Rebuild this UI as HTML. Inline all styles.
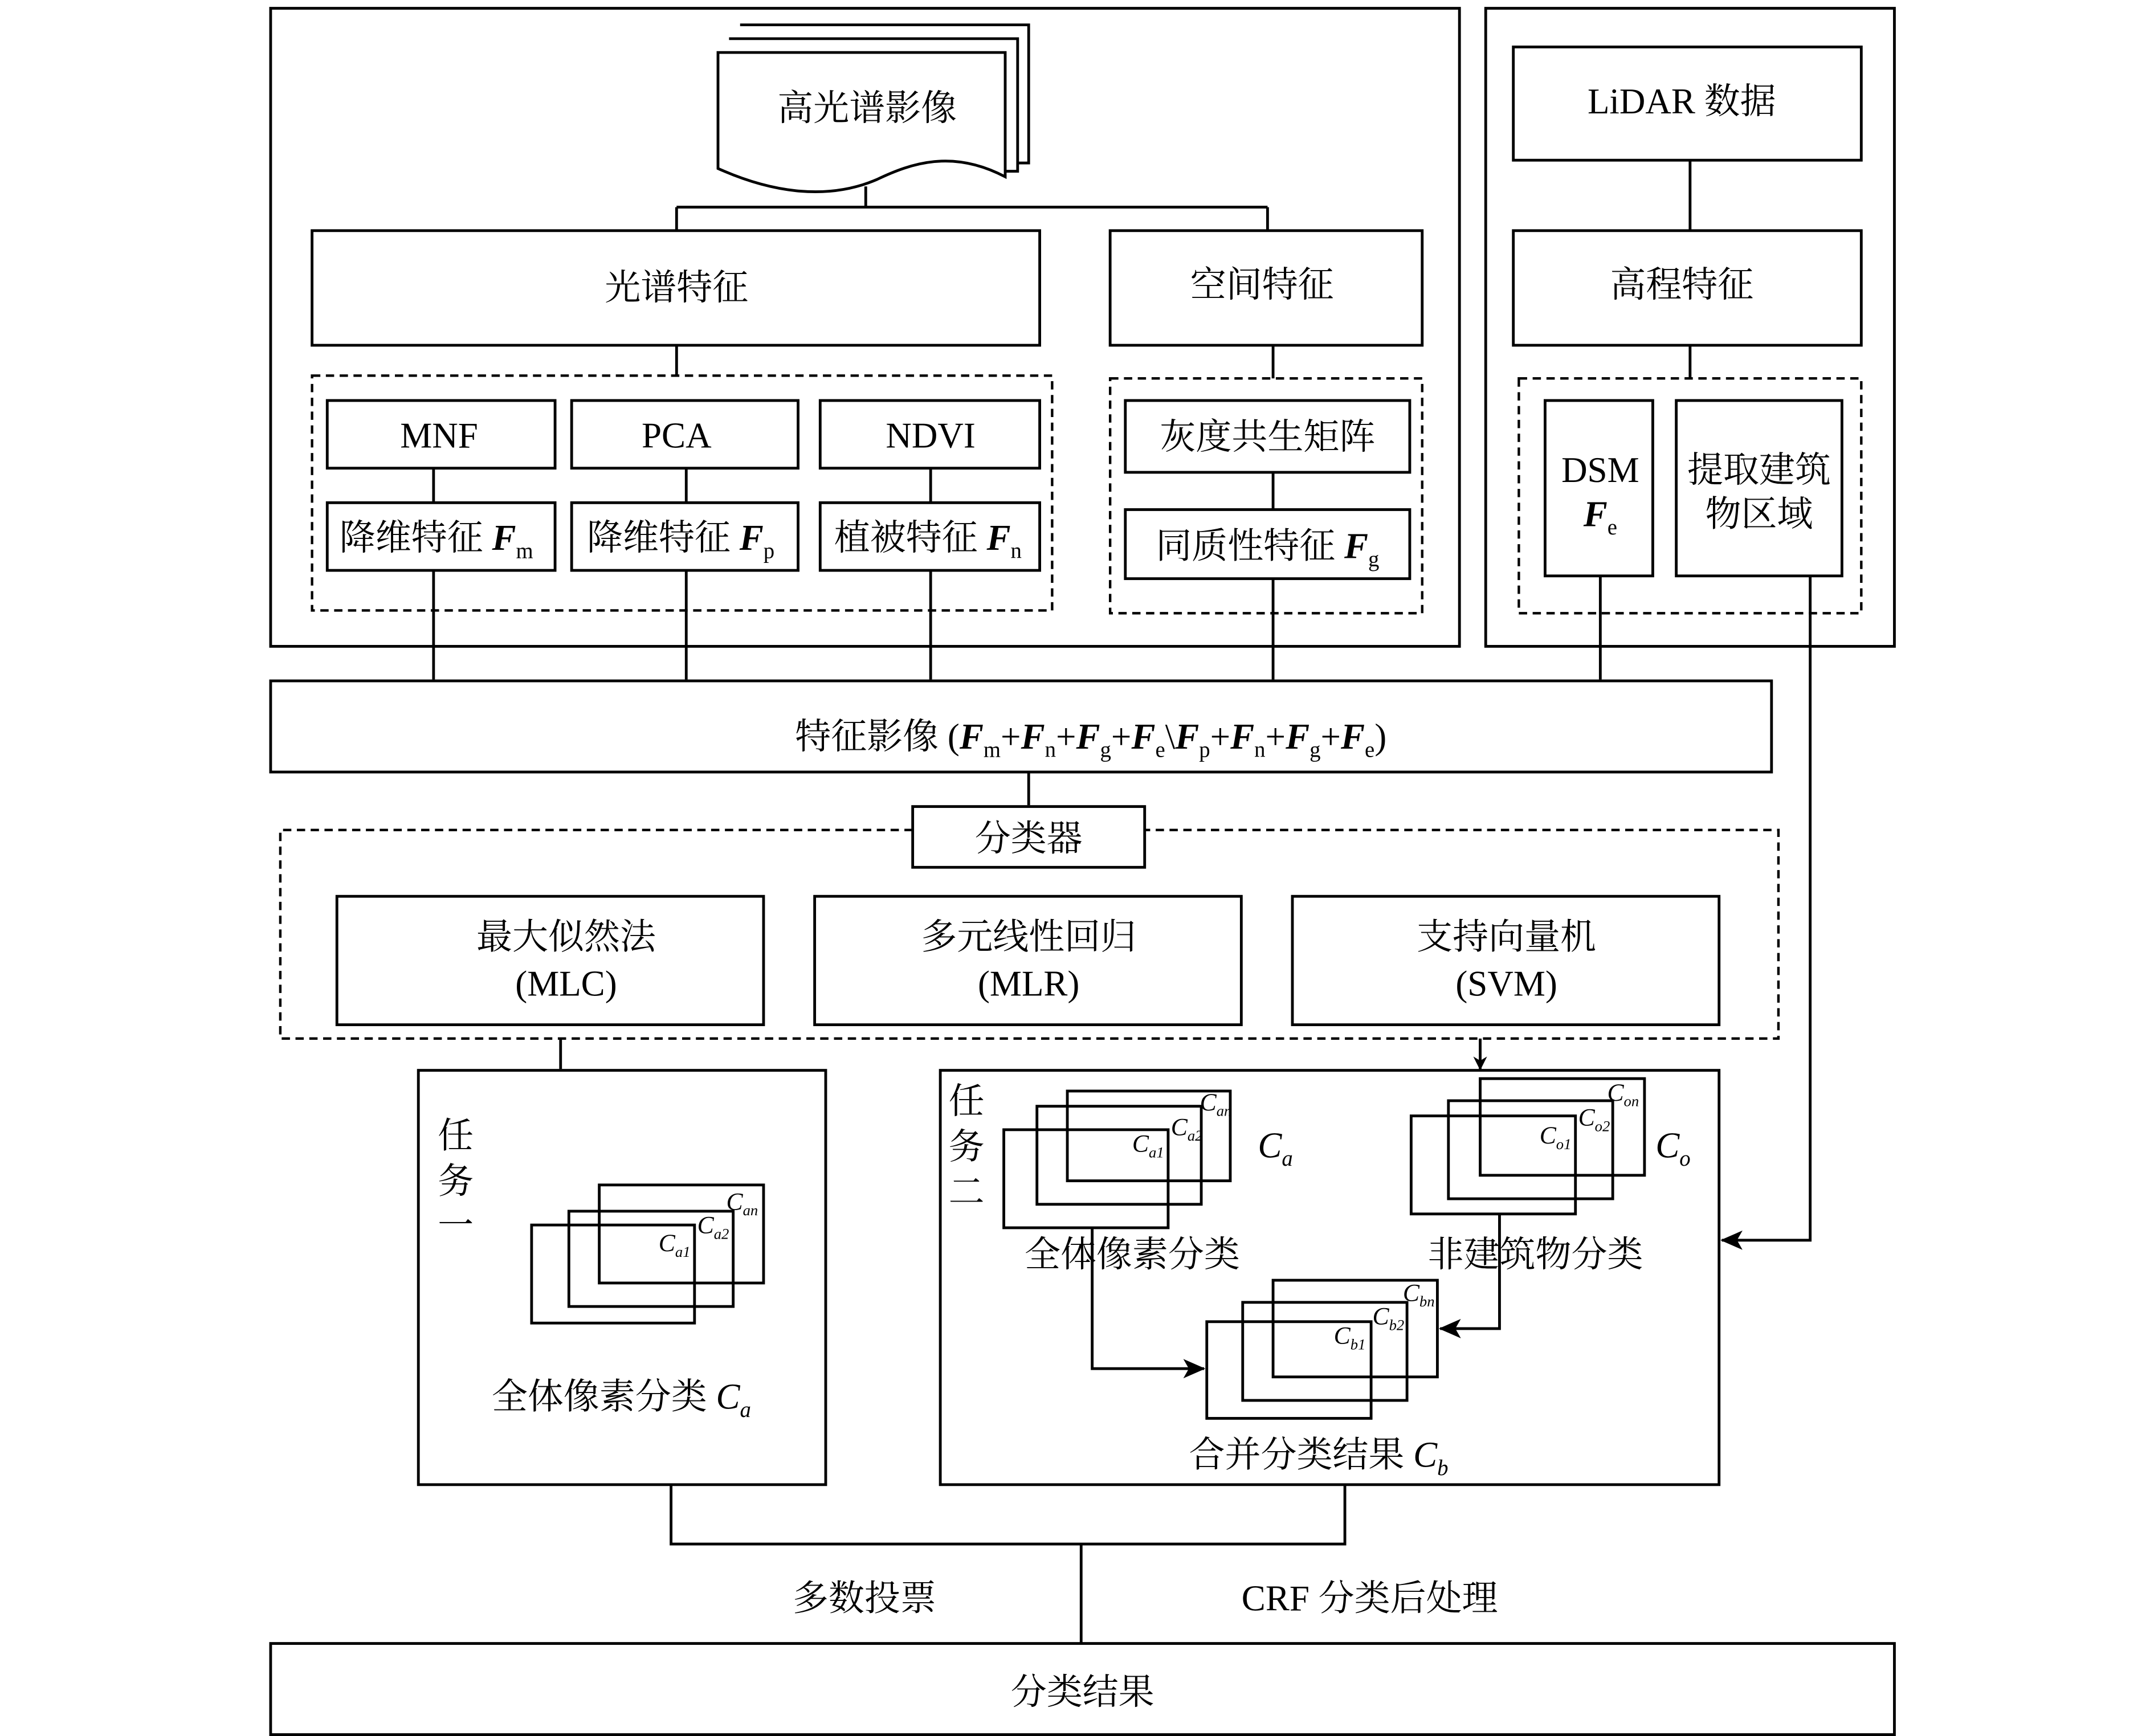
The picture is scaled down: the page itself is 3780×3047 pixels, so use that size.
<!DOCTYPE html>
<html><head><meta charset="utf-8"><style>
html,body{margin:0;padding:0;background:#fff;}
svg{display:block;}
text{font-family:"Liberation Serif","Noto Serif CJK SC",serif;fill:#000;}
</style></head><body>
<svg width="3780" height="3047" viewBox="0 0 1560 1257" preserveAspectRatio="none" xmlns="http://www.w3.org/2000/svg">
<defs><marker id="a" markerWidth="10" markerHeight="10" refX="9" refY="5" orient="auto" markerUnits="userSpaceOnUse"><path d="M0,0 L10,5 L0,10 L3,5 z" fill="#000"/></marker>
<marker id="b" markerWidth="16" markerHeight="14" refX="15" refY="7" orient="auto" markerUnits="userSpaceOnUse"><path d="M0,0 L16,7 L0,14 L4,7 z" fill="#000"/></marker></defs>
<g fill="none" stroke="#000" stroke-width="2">
<rect x="196" y="6" width="861" height="462"/>
<rect x="1076" y="6" width="296" height="462"/>
<!-- document stack -->
<path d="M536,18 H745 V118 H737" fill="#fff"/>
<path d="M528,28 H737 V124 H728" fill="#fff"/>
<path d="M520,38 H728 V128 C690,108 660,118 635,130 C600,145 560,140 520,122 Z" fill="#fff"/>
<path d="M627,135 V150 M490,150 H918 M490,150 V167 M918,150 V167"/>
<rect x="226" y="167" width="527" height="83"/>
<rect x="804" y="167" width="226" height="83"/>
<line x1="490" y1="250" x2="490" y2="272"/>
<line x1="922" y1="250" x2="922" y2="274"/>
<rect x="237" y="290" width="165" height="49"/>
<rect x="414" y="290" width="164" height="49"/>
<rect x="594" y="290" width="159" height="49"/>
<rect x="237" y="364" width="165" height="49"/>
<rect x="414" y="364" width="164" height="49"/>
<rect x="594" y="364" width="159" height="49"/>
<path d="M314,339V364 M497,339V364 M674,339V364 M922,342V369 M1224,116V167 M1224,250V274"/>
<rect x="815" y="290" width="206" height="52"/>
<rect x="815" y="369" width="206" height="50"/>
<rect x="1096" y="34" width="252" height="82"/>
<rect x="1096" y="167" width="252" height="83"/>
<rect x="1119" y="290" width="78" height="127"/>
<rect x="1214" y="290" width="120" height="127"/>
<g stroke-dasharray="6,4" stroke-width="1.8">
<rect x="226" y="272" width="536" height="170"/>
<rect x="804" y="274" width="226" height="170"/>
<rect x="1100" y="274" width="248" height="170"/>
<path d="M661,601 H203 V752 H1288 V601 H829"/>
</g>
<path d="M314,413V492 M497,413V492 M674,413V492 M922,419V492 M1159,417V492 M745,559V583 M406,752V774 M1072,752V774" marker-end="url(#a)"/>
<path d="M1311,417 V898 H1247" marker-end="url(#b)"/>
<rect x="196" y="493" width="1087" height="66"/>
<rect x="661" y="584" width="168" height="44" fill="#fff"/>
<rect x="244" y="649" width="309" height="93"/>
<rect x="590" y="649" width="309" height="93"/>
<rect x="936" y="649" width="309" height="93"/>
<rect x="303" y="775" width="295" height="300"/>
<rect x="681" y="775" width="564" height="300"/>
<rect x="434" y="858" width="119" height="71"/>
<rect x="412" y="877" width="119" height="69"/>
<rect x="385" y="887" width="118" height="71"/>
<rect x="773" y="790" width="118" height="65"/>
<rect x="751" y="801" width="119" height="71"/>
<rect x="727" y="818" width="119" height="71"/>
<rect x="1072" y="781" width="119" height="70"/>
<rect x="1049" y="797" width="119" height="71"/>
<rect x="1022" y="808" width="119" height="71"/>
<rect x="922" y="927" width="119" height="70"/>
<rect x="900" y="943" width="119" height="71"/>
<rect x="874" y="957" width="119" height="70"/>
<path d="M791,889 V991 H872" marker-end="url(#b)"/>
<path d="M1086,879 V962 H1043" marker-end="url(#b)"/>
<path d="M486,1075 V1118 H974 V1075 M783,1118 V1190"/>
<rect x="196" y="1190" width="1176" height="66"/>
</g>
<g font-size="26" text-anchor="middle">
<text x="628" y="87">高光谱影像</text>
<text x="490" y="217">光谱特征</text>
<text x="914" y="215">空间特征</text>
<text x="1218" y="82">LiDAR 数据</text>
<text x="1218" y="215">高程特征</text>
<text x="318" y="324">MNF</text>
<text x="490" y="324">PCA</text>
<text x="674" y="324">NDVI</text>
<text x="918" y="325">灰度共生矩阵</text>
<text x="316" y="398">降维特征 <tspan font-weight="bold" font-style="italic">F</tspan><tspan font-size="16" dy="6">m</tspan></text>
<text x="493" y="398">降维特征 <tspan font-weight="bold" font-style="italic">F</tspan><tspan font-size="16" dy="6">p</tspan></text>
<text x="672" y="398">植被特征 <tspan font-weight="bold" font-style="italic">F</tspan><tspan font-size="16" dy="6">n</tspan></text>
<text x="918" y="404">同质性特征 <tspan font-weight="bold" font-style="italic">F</tspan><tspan font-size="16" dy="6">g</tspan></text>
<text x="1159" y="349">DSM</text>
<text x="1159" y="381"><tspan font-weight="bold" font-style="italic">F</tspan><tspan font-size="16" dy="6">e</tspan></text>
<text x="1274" y="349">提取建筑</text>
<text x="1274" y="381">物区域</text>
<text x="790" y="542">特征影像 (<tspan font-weight="bold" font-style="italic">F</tspan><tspan font-size="16" dy="6">m</tspan><tspan dy="-6">+</tspan><tspan font-weight="bold" font-style="italic">F</tspan><tspan font-size="16" dy="6">n</tspan><tspan dy="-6">+</tspan><tspan font-weight="bold" font-style="italic">F</tspan><tspan font-size="16" dy="6">g</tspan><tspan dy="-6">+</tspan><tspan font-weight="bold" font-style="italic">F</tspan><tspan font-size="16" dy="6">e</tspan><tspan dy="-6">\</tspan><tspan font-weight="bold" font-style="italic">F</tspan><tspan font-size="16" dy="6">p</tspan><tspan dy="-6">+</tspan><tspan font-weight="bold" font-style="italic">F</tspan><tspan font-size="16" dy="6">n</tspan><tspan dy="-6">+</tspan><tspan font-weight="bold" font-style="italic">F</tspan><tspan font-size="16" dy="6">g</tspan><tspan dy="-6">+</tspan><tspan font-weight="bold" font-style="italic">F</tspan><tspan font-size="16" dy="6">e</tspan><tspan dy="-6">)</tspan></text>
<text x="745" y="616">分类器</text>
<text x="410" y="687">最大似然法</text><text x="410" y="721">(MLC)</text>
<text x="745" y="687">多元线性回归</text><text x="745" y="721">(MLR)</text>
<text x="1091" y="687">支持向量机</text><text x="1091" y="721">(SVM)</text>
<text x="330" y="831">任</text><text x="330" y="864">务</text><text x="330" y="896">一</text>
<text x="700" y="806">任</text><text x="700" y="839">务</text><text x="700" y="872">二</text>
<text x="450" y="1020">全体像素分类 <tspan font-style="italic">C</tspan><tspan font-size="16" font-style="italic" dy="6">a</tspan></text>
<text x="820" y="917">全体像素分类</text>
<text x="1112" y="917">非建筑物分类</text>
<text x="955" y="1062">合并分类结果 <tspan font-style="italic">C</tspan><tspan font-size="16" font-style="italic" dy="6">b</tspan></text>
<text x="626" y="1166">多数投票</text>
<text x="992" y="1166">CRF 分类后处理</text>
<text x="784" y="1234">分类结果</text>
</g>
<g font-style="italic" font-size="18">
<text x="477" y="906">C<tspan font-size="11" dy="4">a1</tspan></text>
<text x="505" y="893">C<tspan font-size="11" dy="4">a2</tspan></text>
<text x="526" y="876">C<tspan font-size="11" dy="4">an</tspan></text>
<text x="820" y="834">C<tspan font-size="11" dy="4">a1</tspan></text>
<text x="848" y="822">C<tspan font-size="11" dy="4">a2</tspan></text>
<text x="869" y="804">C<tspan font-size="11" dy="4">an</tspan></text>
<text x="1115" y="828">C<tspan font-size="11" dy="4">o1</tspan></text>
<text x="1143" y="815">C<tspan font-size="11" dy="4">o2</tspan></text>
<text x="1164" y="797">C<tspan font-size="11" dy="4">on</tspan></text>
<text x="966" y="973">C<tspan font-size="11" dy="4">b1</tspan></text>
<text x="994" y="959">C<tspan font-size="11" dy="4">b2</tspan></text>
<text x="1016" y="942">C<tspan font-size="11" dy="4">bn</tspan></text>
<text x="911" y="838" font-size="26">C<tspan font-size="16" dy="6">a</tspan></text>
<text x="1199" y="838" font-size="26">C<tspan font-size="16" dy="6">o</tspan></text>
</g>
</svg>
</body></html>
